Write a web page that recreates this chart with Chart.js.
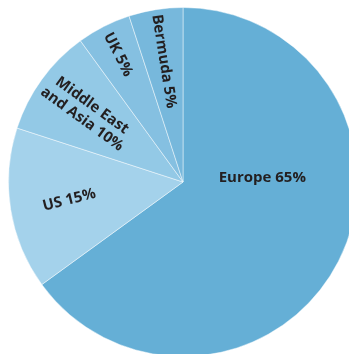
<!DOCTYPE html>
<html>
<head>
<meta charset="utf-8">
<script src="https://cdn.jsdelivr.net/npm/chart.js@4"></script>
<style>
  html, body { margin: 0; padding: 0; background: #fff; overflow: hidden; width: 349px; height: 354px; }
  #wrap { position: absolute; left: 8px; top: 7px; width: 350px; height: 350px; }
</style>
</head>
<body>
<div id="wrap"><canvas id="pieChart"></canvas></div>
<script>
// data
const regions = ['Europe', 'US', 'Middle East\nand Asia', 'UK', 'Bermuda'];
const shares = [65, 15, 10, 5, 5];
const sliceColors = ['#65afd6', '#a4d2eb', '#93c9e6', '#85c0e1', '#77b8dc'];

// label placement: distance from centre (fraction of radius), optional angle and rotation (degrees)
const labelLayout = [
  { dist: 0.455, angle: -3, rot: 0 },
  { dist: 0.66, rot: -14 },
  { dist: 0.68 },
  { dist: 0.82 },
  { dist: 0.70 }
];

const sliceLabels = {
  id: 'sliceLabels',
  afterDatasetsDraw(chart) {
    const ctx = chart.ctx;
    const arcs = chart.getDatasetMeta(0).data;
    ctx.save();
    ctx.fillStyle = '#231f20';
    ctx.font = 'bold 15px "Open Sans"';
    ctx.textAlign = 'center';
    ctx.textBaseline = 'middle';
    arcs.forEach((arc, i) => {
      const p = arc.getProps(['x', 'y', 'startAngle', 'endAngle', 'outerRadius'], true);
      const lay = labelLayout[i];
      const mid = (p.startAngle + p.endAngle) / 2;
      const a = lay.angle !== undefined ? lay.angle * Math.PI / 180 : mid;
      const r = p.outerRadius * lay.dist;
      const x = p.x + Math.cos(a) * r;
      const y = p.y + Math.sin(a) * r;
      const rot = lay.rot !== undefined ? lay.rot * Math.PI / 180 : mid + Math.PI;
      const lines = (regions[i] + ' ' + shares[i] + '%').split('\n');
      ctx.save();
      ctx.translate(x, y);
      ctx.rotate(rot);
      const lh = 17;
      lines.forEach((ln, k) => {
        ctx.fillText(ln, 0, (k - (lines.length - 1) / 2) * lh);
      });
      ctx.restore();
    });
    ctx.restore();
  }
};

var ctxPie = document.getElementById('pieChart').getContext('2d');
var pieChart = new Chart(ctxPie, {
  type: 'pie',
  data: {
    labels: regions,
    datasets: [{
      data: shares,
      backgroundColor: sliceColors,
      borderColor: 'rgba(255,255,255,0.45)',
      borderWidth: 1
    }]
  },
  options: {
    responsive: true,
    maintainAspectRatio: false,
    animation: false,
    layout: { padding: 0 },
    plugins: {
      legend: { display: false },
      tooltip: { enabled: false }
    }
  },
  plugins: [sliceLabels]
});
</script>
</body>
</html>
